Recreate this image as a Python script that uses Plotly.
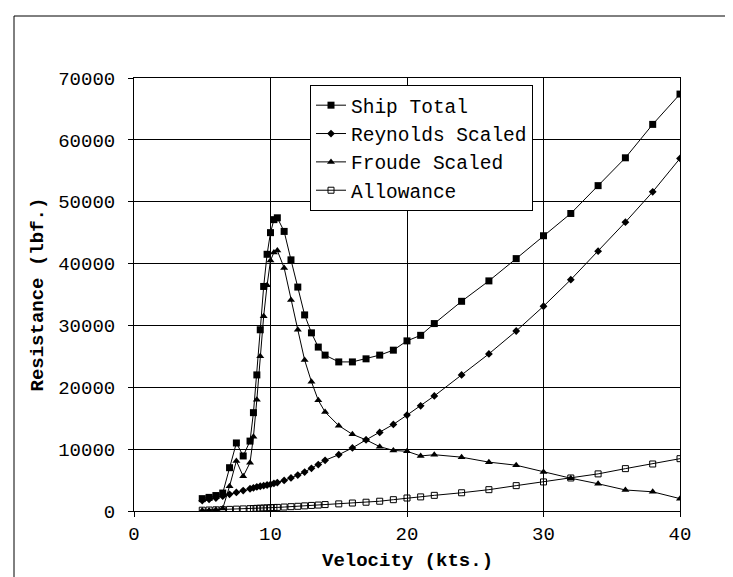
'''Ship resistance vs velocity, four components'''
import plotly.graph_objects as go

# velocity (kts.)
velocity = [5, 5.5, 6, 6.5, 7, 7.5, 8, 8.5, 8.75, 9, 9.25, 9.5, 9.75, 10, 10.25, 10.5,
            11, 11.5, 12, 12.5, 13, 13.5, 14, 15, 16, 17, 18, 19, 20, 21, 22,
            24, 26, 28, 30, 32, 34, 36, 38, 40]

# resistance (lbf.)
ship_total = [2000, 2200, 2500, 2900, 7000, 11000, 8900, 11300, 15900, 22000, 29300, 36300,
              41500, 45000, 47100, 47400, 45200, 40600, 36200, 31700, 28800, 26500, 25200,
              24100, 24100, 24600, 25200, 26000, 27500, 28400, 30300,
              33900, 37200, 40800, 44500, 48100, 52600, 57100, 62500, 67400]
reynolds_scaled = [1700, 1900, 2100, 2400, 2700, 3000, 3300, 3600, 3750, 3900, 4000, 4100,
                   4200, 4300, 4450, 4600, 4950, 5350, 5800, 6300, 6900, 7500, 8200,
                   9100, 10200, 11500, 12700, 14000, 15500, 17000, 18600,
                   22000, 25400, 29100, 33100, 37400, 42000, 46700, 51600, 57000]
froude_scaled = [100, 100, 200, 400, 4000, 8100, 5600, 7800, 12000, 18000, 25000, 31500,
                 36500, 40500, 41800, 42100, 39300, 34100, 29300, 24400, 20900, 17900, 16000,
                 13800, 12400, 11500, 10400, 9800, 9650, 8900, 9100,
                 8700, 7900, 7400, 6300, 5300, 4400, 3400, 3100, 2000]
allowance = [130, 160, 190, 220, 260, 300, 340, 380, 400, 430, 450, 480,
             500, 530, 560, 580, 640, 700, 760, 830, 900, 960, 1040,
             1150, 1290, 1420, 1580, 1830, 2100, 2280, 2530,
             2950, 3450, 4100, 4700, 5340, 6000, 6850, 7600, 8460]

FONT = "Liberation Mono"

# plot box in pixels (used only to place the frame and titles)
L, R, T, B = 126, 672, 70, 503
W, H = R - L, B - T

fig = go.Figure()

series = [
    ("Ship Total", ship_total, dict(symbol="square", size=7)),
    ("Reynolds Scaled", reynolds_scaled, dict(symbol="diamond", size=6)),
    ("Froude Scaled", froude_scaled, dict(symbol="triangle-up", size=7)),
    ("Allowance", allowance, dict(symbol="square-open", size=6, line=dict(width=1))),
]
for name, values, marker in series:
    fig.add_trace(go.Scatter(
        x=velocity, y=values, name=name, mode="lines+markers",
        line=dict(color="black", width=1),
        marker=dict(color="black", **marker),
    ))

axis_common = dict(
    showline=True, linecolor="black", linewidth=1, mirror=True,
    showgrid=True, gridcolor="black", gridwidth=1,
    ticks="outside", ticklen=5, tickcolor="black",
    zeroline=False,
    tickfont=dict(family=FONT, size=19, color="black"),
)

fig.update_layout(
    width=733, height=577,
    margin=dict(l=L, r=733 - R, t=T, b=577 - B),
    paper_bgcolor="white", plot_bgcolor="white",
    font=dict(family=FONT, color="black"),
    xaxis=dict(range=[0, 40], dtick=10, **axis_common),
    yaxis=dict(range=[0, 70000], dtick=10000, tickformat="d", ticklabelstandoff=9, **axis_common),
    legend=dict(x=(302 - L) / W, y=(B - 77) / H, xanchor="left", yanchor="top",
                bgcolor="white", bordercolor="black", borderwidth=1, itemwidth=30,
                font=dict(family=FONT, size=19.5, color="black")),
    showlegend=True,
    annotations=[
        dict(text="<b>Velocity (kts.)</b>", xref="paper", yref="paper",
             x=0.5, y=(B - 553) / H, xanchor="center", yanchor="middle", showarrow=False,
             font=dict(family=FONT, size=19, color="black")),
        dict(text="<b>Resistance (lbf.)</b>", xref="paper", yref="paper",
             x=(29 - L) / W, y=0.5, xanchor="center", yanchor="middle", showarrow=False,
             textangle=-90, font=dict(family=FONT, size=19, color="black")),
    ],
    shapes=[
        dict(type="line", xref="paper", yref="paper",
             x0=(6 - L) / W, x1=(733 - L) / W, y0=(B - 8) / H, y1=(B - 8) / H,
             line=dict(color="black", width=1)),
        dict(type="line", xref="paper", yref="paper",
             x0=(6 - L) / W, x1=(6 - L) / W, y0=(B - 8) / H, y1=(B - 577) / H,
             line=dict(color="black", width=1)),
    ],
)

fig.write_html("out.html")
